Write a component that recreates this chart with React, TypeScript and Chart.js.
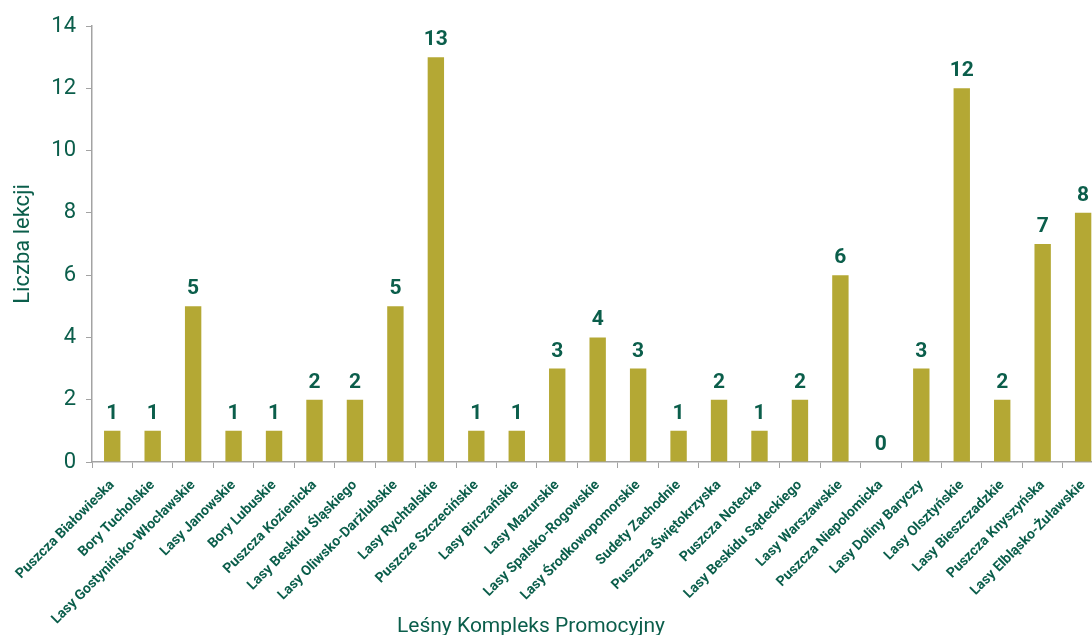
import React, { useEffect, useRef } from "react";
import { Chart, registerables } from "chart.js";

Chart.register(...registerables);

const categories: string[] = [
  "Puszcza Białowieska",
  "Bory Tucholskie",
  "Lasy Gostynińsko-Włocławskie",
  "Lasy Janowskie",
  "Bory Lubuskie",
  "Puszcza Kozienicka",
  "Lasy Beskidu Śląskiego",
  "Lasy Oliwsko-Darżlubskie",
  "Lasy Rychtalskie",
  "Puszcze Szczecińskie",
  "Lasy Birczańskie",
  "Lasy Mazurskie",
  "Lasy Spalsko-Rogowskie",
  "Lasy Środkowopomorskie",
  "Sudety Zachodnie",
  "Puszcza Świętokrzyska",
  "Puszcza Notecka",
  "Lasy Beskidu Sądeckiego",
  "Lasy Warszawskie",
  "Puszcza Niepołomicka",
  "Lasy Doliny Baryczy",
  "Lasy Olsztyńskie",
  "Lasy Bieszczadzkie",
  "Puszcza Knyszyńska",
  "Lasy Elbląsko-Żuławskie",
];

const lessonCounts: number[] = [1, 1, 5, 1, 1, 2, 2, 5, 13, 1, 1, 3, 4, 3, 1, 2, 1, 2, 6, 0, 3, 12, 2, 7, 8];

const yTitle = "Liczba lekcji";
const xTitle = "Leśny Kompleks Promocyjny";

const BAR_COLOR = "#B4A834";
const TEXT_COLOR = "#0B5E4B";
const AXIS_COLOR = "#A3A3A3";
const FONT = "Roboto, 'Noto Sans', sans-serif";

const valueLabels = {
  id: "valueLabels",
  afterDatasetsDraw(chart: any) {
    const ctx = chart.ctx;
    const meta = chart.getDatasetMeta(0);
    ctx.save();
    ctx.font = `bold 21px ${FONT}`;
    ctx.fillStyle = TEXT_COLOR;
    ctx.textAlign = "center";
    ctx.textBaseline = "alphabetic";
    meta.data.forEach((bar: any, i: number) => {
      const v = chart.data.datasets[0].data[i];
      ctx.fillText(String(v), bar.x, bar.y - 12);
    });
    ctx.restore();
  },
};

const xAxisTitle = {
  id: "xAxisTitle",
  afterDraw(chart: any) {
    const ctx = chart.ctx;
    ctx.save();
    ctx.font = `21px ${FONT}`;
    ctx.fillStyle = TEXT_COLOR;
    ctx.textAlign = "center";
    ctx.textBaseline = "alphabetic";
    ctx.fillText(xTitle, 531, 632);
    ctx.restore();
  },
};

export default function App() {
  const ref = useRef<HTMLCanvasElement | null>(null);

  useEffect(() => {
    document.body.style.margin = "0";
    document.body.style.overflow = "hidden";
    const canvas = ref.current;
    if (!canvas) return;
    const chart = new Chart(canvas, {
      type: "bar",
      data: {
        labels: categories,
        datasets: [
          {
            data: lessonCounts,
            backgroundColor: BAR_COLOR,
            borderWidth: 0,
            categoryPercentage: 1,
            barPercentage: 0.405,
          },
        ],
      },
      options: {
        animation: false,
        responsive: false,
        maintainAspectRatio: false,
        layout: { padding: { top: 26, right: 0, bottom: 0, left: 0 } },
        plugins: {
          legend: { display: false },
          tooltip: { enabled: false },
        },
        scales: {
          x: {
            offset: true,
            grid: {
              offset: true,
              drawOnChartArea: false,
              drawTicks: true,
              tickLength: 6,
              color: AXIS_COLOR,
            },
            border: { display: true, color: AXIS_COLOR, width: 1.5 },
            ticks: {
              autoSkip: false,
              maxRotation: 45,
              minRotation: 45,
              padding: 9,
              color: TEXT_COLOR,
              font: { family: FONT, size: 14, weight: "bold" },
            },
            title: { display: false },
            afterFit(scale: any) {
              scale.height = 635 - 462;
            },
          },
          y: {
            min: 0,
            max: 14,
            ticks: {
              stepSize: 2,
              padding: 10,
              color: TEXT_COLOR,
              font: { family: FONT, size: 22 },
            },
            grid: {
              drawOnChartArea: false,
              drawTicks: true,
              tickLength: 6,
              color: AXIS_COLOR,
            },
            border: { display: true, color: AXIS_COLOR, width: 1.5 },
            title: {
              display: true,
              text: yTitle,
              color: TEXT_COLOR,
              font: { family: FONT, size: 22 },
              padding: { top: 10, bottom: 4 },
            },
            afterFit(scale: any) {
              scale.width = 92;
            },
          },
        },
      },
      plugins: [valueLabels, xAxisTitle],
    });
    return () => chart.destroy();
  }, []);

  return (
    <div style={{ position: "absolute", left: 0, top: 0, width: 1092, height: 635, overflow: "hidden" }}>
      <canvas ref={ref} width={1104} height={635} style={{ display: "block", width: 1104, height: 635 }} />
    </div>
  );
}
